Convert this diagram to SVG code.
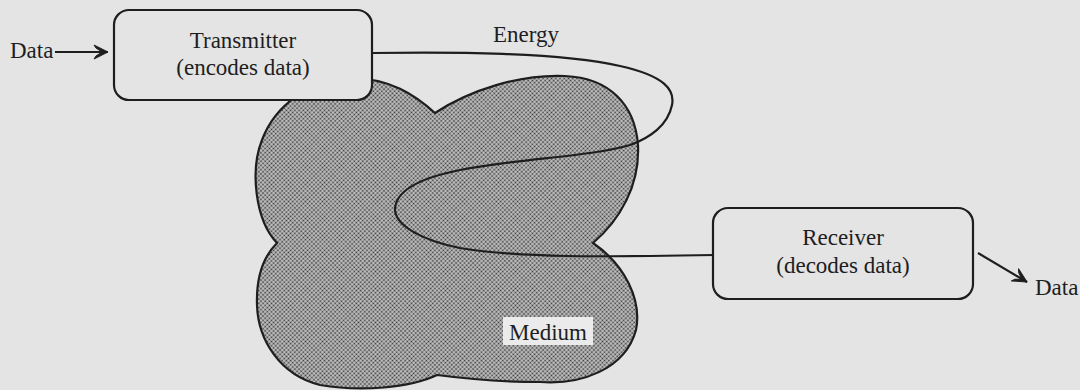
<svg xmlns="http://www.w3.org/2000/svg" width="1080" height="390" viewBox="0 0 1080 390">
  <style>
    .t { font-family: "Liberation Serif", "Times New Roman", serif; font-size: 23px; fill: #1e1e1e; }
    .box { fill: #e4e4e4; stroke: #1e1e1e; stroke-width: 2.2; }
    .line { fill: none; stroke: #1e1e1e; stroke-width: 2.2; }
  </style>
  <defs>
    <pattern id="dots" width="3" height="3" patternUnits="userSpaceOnUse" patternTransform="rotate(45)">
      <rect width="3" height="3" fill="#c4c4c4"/>
      <circle cx="1.5" cy="1.5" r="0.95" fill="#333"/>
    </pattern>
    <marker id="arr" markerUnits="userSpaceOnUse" markerWidth="18" markerHeight="18" refX="15" refY="8" orient="auto">
      <path d="M1,1 L15,8 L1,15 L3,12 L9,8 L3,4 Z" fill="#1e1e1e" stroke="#1e1e1e" stroke-width="1" stroke-linejoin="round"/>
    </marker>
  </defs>
  <rect width="1080" height="390" fill="#e4e4e4"/>

  <g id="medium">
    <path d="M277,243 C255,220 250,170 262,140 C275,105 310,80 350,78 C390,78 415,95 435,113 C470,90 520,74 565,76 C610,78 635,105 638,145 C640,185 620,220 593,243 C625,265 642,300 636,330 C625,370 580,385 540,382 C500,382 460,378 437,375 C410,388 360,392 320,385 C280,375 258,340 257,305 C256,275 265,255 277,243 Z" fill="url(#dots)" stroke="#1e1e1e" stroke-width="2.2"/>
    <rect x="503" y="317" width="90" height="28" fill="#ebebeb"/>
    <text class="t" x="548" y="340" text-anchor="middle">Medium</text>
  </g>

  <g id="connectors">
    <line class="line" x1="55" y1="52" x2="108" y2="52" marker-end="url(#arr)"/>
    <path class="line" d="M372,53 C450,52 560,52 620,66 C665,76 675,90 672,105 C668,125 650,138 630,145 C590,157 520,158 460,170 C410,180 395,195 395,210 C396,225 420,240 460,248 C520,258 600,257 715,255"/>
    <text class="t" x="526" y="42" text-anchor="middle">Energy</text>
    <line class="line" x1="978" y1="253" x2="1027" y2="282" marker-end="url(#arr)"/>
  </g>

  <g id="data-in">
    <text class="t" x="10" y="58">Data</text>
  </g>

  <g id="transmitter">
    <rect class="box" x="114" y="10" width="258" height="90" rx="15"/>
    <text class="t" x="243" y="48" text-anchor="middle">Transmitter</text>
    <text class="t" x="243" y="75" text-anchor="middle">(encodes data)</text>
  </g>

  <g id="receiver">
    <rect class="box" x="713" y="208" width="260" height="91" rx="15"/>
    <text class="t" x="843" y="245" text-anchor="middle">Receiver</text>
    <text class="t" x="843" y="273" text-anchor="middle">(decodes data)</text>
  </g>

  <g id="data-out">
    <text class="t" x="1035" y="295">Data</text>
  </g>
</svg>
